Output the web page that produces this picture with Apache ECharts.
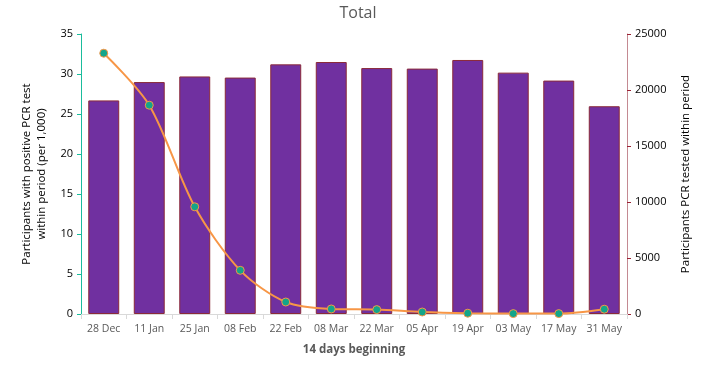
<!DOCTYPE html>
<html><head><meta charset="utf-8">
<script src="https://cdn.jsdelivr.net/npm/echarts@6/dist/echarts.min.js"></script>
<style>html,body{margin:0;padding:0;background:#fff}#c{width:716px;height:372px}</style>
</head><body><div id="c"></div>
<script>
const categories = ['28 Dec','11 Jan','25 Jan','08 Feb','22 Feb','08 Mar','22 Mar','05 Apr','19 Apr','03 May','17 May','31 May'];
const testedValues = [19070, 20710, 21210, 21110, 22290, 22500, 21960, 21910, 22680, 21550, 20840, 18550];
const positiveRate = [32.6, 26.1, 13.4, 5.46, 1.5, 0.63, 0.55, 0.25, 0.1, 0.05, 0.05, 0.6];
const leftTicks = [0, 5, 10, 15, 20, 25, 30, 35];
const rightTicks = [0, 5000, 10000, 15000, 20000, 25000];

const font = 'Open Sans';
const chart = echarts.init(document.getElementById('c'));
chart.setOption({
  animation: false,
  title: { text: 'Total', left: 'center', top: 0, textStyle: { color: '#595959', fontWeight: 'normal', fontSize: 16, fontFamily: font } },
  grid: { left: 81, right: 89, top: 34, bottom: 58 },
  xAxis: {
    type: 'category', data: categories,
    name: '14 days beginning', nameLocation: 'middle', nameGap: 30,
    nameTextStyle: { color: '#595959', fontWeight: 'bold', fontSize: 11.5, fontFamily: font },
    axisLine: { lineStyle: { color: '#d9d9d9' } },
    axisTick: { show: true, lineStyle: { color: '#d9d9d9' } },
    axisLabel: { color: '#595959', fontSize: 10.5, fontFamily: font, margin: 10, interval: 0 }
  },
  yAxis: [
    {
      type: 'value', min: leftTicks[0], max: leftTicks[leftTicks.length - 1], interval: 5,
      name: 'Participants with positive PCR test\nwithin period (per 1,000)',
      nameLocation: 'middle', nameGap: 29, nameRotate: 90,
      nameTextStyle: { color: '#000', fontSize: 11.5, fontFamily: font, lineHeight: 15 },
      axisLine: { show: true, lineStyle: { color: '#1abc9c' } },
      axisTick: { show: true, length: 4, lineStyle: { color: '#1abc9c' } },
      axisLabel: { color: '#000', fontSize: 11, fontFamily: font, margin: 8 },
      splitLine: { show: false }
    },
    {
      type: 'value', min: rightTicks[0], max: rightTicks[rightTicks.length - 1], interval: 5000,
      name: 'Participants PCR tested within period',
      nameLocation: 'middle', nameGap: 53, nameRotate: 90,
      nameTextStyle: { color: '#000', fontSize: 11.5, fontFamily: font },
      axisLine: { show: true, lineStyle: { color: '#c48a92' } },
      axisTick: { show: true, length: 4, inside: false, lineStyle: { color: '#9b2335' } },
      axisLabel: { color: '#000', fontSize: 11, fontFamily: font, margin: 8, formatter: v => String(v) },
      splitLine: { show: false }
    }
  ],
  series: [
    {
      type: 'bar', yAxisIndex: 1, data: testedValues, barCategoryGap: '32%',
      itemStyle: { color: '#7030a0', borderColor: '#8b2a3a', borderWidth: 1 }
    },
    {
      type: 'line', yAxisIndex: 0, data: positiveRate, smooth: 0.3,
      symbol: 'circle', symbolSize: 8,
      lineStyle: { color: '#f79646', width: 2 },
      itemStyle: { color: '#13a58a', borderColor: '#f79646', borderWidth: 1 }
    }
  ]
});
</script></body></html>
